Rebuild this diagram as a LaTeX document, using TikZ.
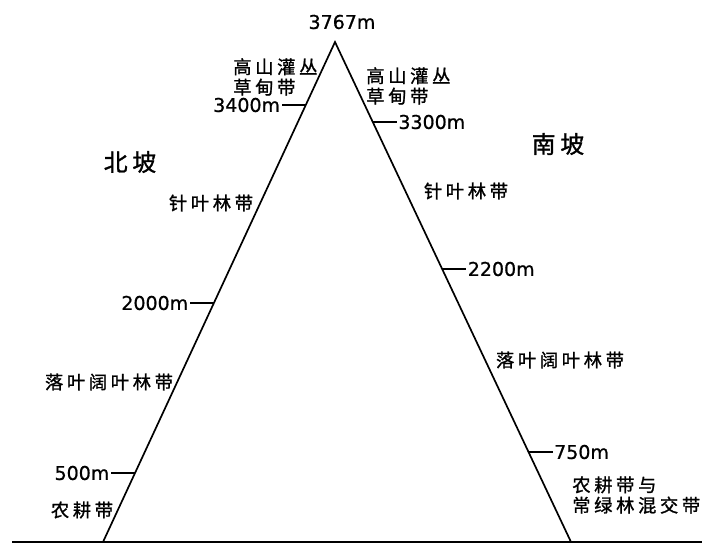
\documentclass[tikz,border=0pt]{standalone}
\usepackage{fontspec}
\newfontfamily\cjk[LetterSpace=20,FakeBold=1.2]{Noto Sans CJK SC}
\newfontfamily\numfont[FakeBold=0.8]{DejaVu Sans}
\usetikzlibrary{positioning,calc}
\begin{document}
\begin{tikzpicture}[x=0.025cm,y=-0.025cm,
   zone/.style={font=\cjk\fontsize{13}{14.5}\selectfont, inner sep=0pt, align=left},
   slope/.style={font=\cjk\fontsize{17}{20}\selectfont, inner sep=0pt},
   height/.style={font=\numfont\fontsize{13.5}{15}\selectfont, inner sep=1pt},
   line/.style={line width=1.2pt}]
   \useasboundingbox (0,0) rectangle (708,545);
   % mountain
   \coordinate (apex) at (335,42);
   \coordinate (lbase) at (103,542);
   \coordinate (rbase) at (571,542);
   \coordinate (gleft) at (12,542);
   \coordinate (gright) at (702,542);
   \draw[line] (lbase) -- (apex) -- (rbase);
   \draw[line] (gleft) -- (gright);
   \node[height] (top) at (342,22) {3767m};
   % north side
   \node[slope] (north) at (130,162) {北坡};
   \coordinate (n3400) at ($(apex)!0.126!(lbase)$);
   \coordinate (n2000) at ($(apex)!0.522!(lbase)$);
   \coordinate (n500) at ($(apex)!0.862!(lbase)$);
   \node[height, left=0.6cm of n3400] (h3400) {3400m};
   \node[height, left=0.6cm of n2000] (h2000) {2000m};
   \node[height, left=0.6cm of n500] (h500) {500m};
   \draw[line] (n3400) -- (h3400.east);
   \draw[line] (n2000) -- (h2000.east);
   \draw[line] (n500) -- (h500.east);
   \node[zone, anchor=west] (nalp) at (233,77) {高山灌丛\\草甸带};
   \node[zone] (ncon) at (211,203) {针叶林带};
   \node[zone] (ndec) at (109,382) {落叶阔叶林带};
   \node[zone] (nfarm) at (82,510) {农耕带};
   % south side
   \node[slope] (south) at (558,144) {南坡};
   \coordinate (s3300) at ($(apex)!0.16!(rbase)$);
   \coordinate (s2200) at ($(apex)!0.454!(rbase)$);
   \coordinate (s750) at ($(apex)!0.82!(rbase)$);
   \node[height, right=0.6cm of s3300] (h3300) {3300m};
   \node[height, right=0.6cm of s2200] (h2200) {2200m};
   \node[height, right=0.6cm of s750] (h750) {750m};
   \draw[line] (s3300) -- (h3300.west);
   \draw[line] (s2200) -- (h2200.west);
   \draw[line] (s750) -- (h750.west);
   \node[zone, anchor=west] (salp) at (366,86) {高山灌丛\\草甸带};
   \node[zone] (scon) at (466,191) {针叶林带};
   \node[zone] (sdec) at (560,360) {落叶阔叶林带};
   \node[zone, anchor=west] (sfarm) at (572,495) {农耕带与\\常绿林混交带};
\end{tikzpicture}
\end{document}
